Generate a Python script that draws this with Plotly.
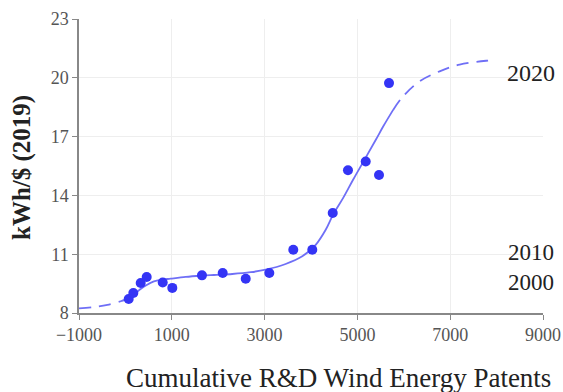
import plotly.graph_objects as go

# Observed data points
patents = [71, 171, 330, 459, 804, 1011, 1650, 2097, 2593, 3101, 3618, 4028, 4468, 4797, 5179, 5466, 5681]
kwh = [8.71, 9.02, 9.53, 9.84, 9.56, 9.28, 9.92, 10.04, 9.75, 10.04, 11.23, 11.23, 13.10, 15.28, 15.73, 15.04, 19.73]

# Fitted curve: back-cast, fitted, forecast
back_x = [-1000, -700, -387, -100, 0]
back_y = [8.24, 8.30, 8.42, 8.60, 8.68]
fit_x = [0, 200, 328, 450, 614, 800, 973, 1300, 1621, 1908, 2304, 2700, 3022, 3453, 3812, 4101, 4317, 4476, 4700, 4907, 5194, 5400, 5552, 5767]
fit_y = [8.68, 8.98, 9.22, 9.42, 9.61, 9.70, 9.75, 9.84, 9.90, 9.94, 9.99, 10.08, 10.21, 10.50, 10.89, 11.48, 12.25, 13.02, 13.90, 14.80, 15.99, 16.85, 17.50, 18.35]
fore_x = [5767, 5983, 6341, 6772, 7203, 7776, 7980]
fore_y = [18.35, 19.05, 19.82, 20.33, 20.67, 20.87, 20.90]

year_top = "2020"
year_top_y = 20.24
year_bottom = "2010<br>2000"
year_bottom_y = 10.30

x_ticks = [-1000, 1000, 3000, 5000, 7000, 9000]
y_ticks = [8, 11, 14, 17, 20, 23]

line_color = "rgba(95,95,245,0.9)"
marker_color = "rgb(52,52,245)"
serif = "Liberation Serif, Times New Roman, serif"

fig = go.Figure()
fig.add_trace(go.Scatter(x=back_x, y=back_y, mode="lines",
                         line=dict(color=line_color, width=1.8, dash="12px,8px", shape="spline"),
                         hoverinfo="skip", showlegend=False))
fig.add_trace(go.Scatter(x=fit_x, y=fit_y, mode="lines",
                         line=dict(color=line_color, width=1.8, shape="spline"),
                         hoverinfo="skip", showlegend=False))
fig.add_trace(go.Scatter(x=fore_x, y=fore_y, mode="lines",
                         line=dict(color=line_color, width=1.8, dash="12px,8px", shape="spline"),
                         hoverinfo="skip", showlegend=False))
fig.add_trace(go.Scatter(x=patents, y=kwh, mode="markers",
                         marker=dict(color=marker_color, size=10),
                         showlegend=False))

fig.add_annotation(x=8741, y=year_top_y, xref="x", yref="y", text=year_top, showarrow=False,
                   font=dict(family=serif, size=24, color="#222"))
fig.add_annotation(x=8741, y=year_bottom_y, xref="x", yref="y", text=year_bottom, showarrow=False,
                   font=dict(family=serif, size=23, color="#222"))

fig.add_annotation(x=0.56, y=-0.22, xref="paper", yref="paper", text="Cumulative R&D Wind Energy Patents",
                   showarrow=False, xanchor="center", yanchor="middle",
                   font=dict(family=serif, size=27, color="#222"))

fig.update_xaxes(range=[-1000, 9000], tickvals=x_ticks, ticktext=[str(v).replace("-", "\u2212") for v in x_ticks],
                 showgrid=True, gridcolor="#eeeeee", gridwidth=1, zeroline=False, automargin=False,
                 showline=True, linecolor="#888888", linewidth=1.5, ticks="outside", ticklen=5,
                 tickcolor="#888888", tickfont=dict(family=serif, size=18, color="#555"))
fig.update_yaxes(range=[8, 23], tickvals=y_ticks, automargin=False,
                 showgrid=True, gridcolor="#eeeeee", gridwidth=1, zeroline=False,
                 showline=True, linecolor="#888888", linewidth=1.5, ticks="outside", ticklen=5,
                 tickcolor="#888888", tickfont=dict(family=serif, size=18, color="#555"))

fig.add_annotation(x=22, y=168, xref="paper", yref="paper", text="<b>kWh/$ (2019)</b>", showarrow=False,
                   textangle=-90, xanchor="center", yanchor="middle",
                   font=dict(family=serif, size=25, color="#222"))

fig.update_layout(width=563, height=392, margin=dict(l=79, r=20, t=19, b=79),
                  plot_bgcolor="white", paper_bgcolor="white", showlegend=False)

# convert pixel-placed y-title annotation into paper coordinates
plot_w = 563 - 79 - 20
plot_h = 392 - 19 - 79
ann = fig.layout.annotations[-1]
ann.x = (22 - 79) / plot_w
ann.y = (392 - 79 - 168) / plot_h

fig.write_html("out.html")
